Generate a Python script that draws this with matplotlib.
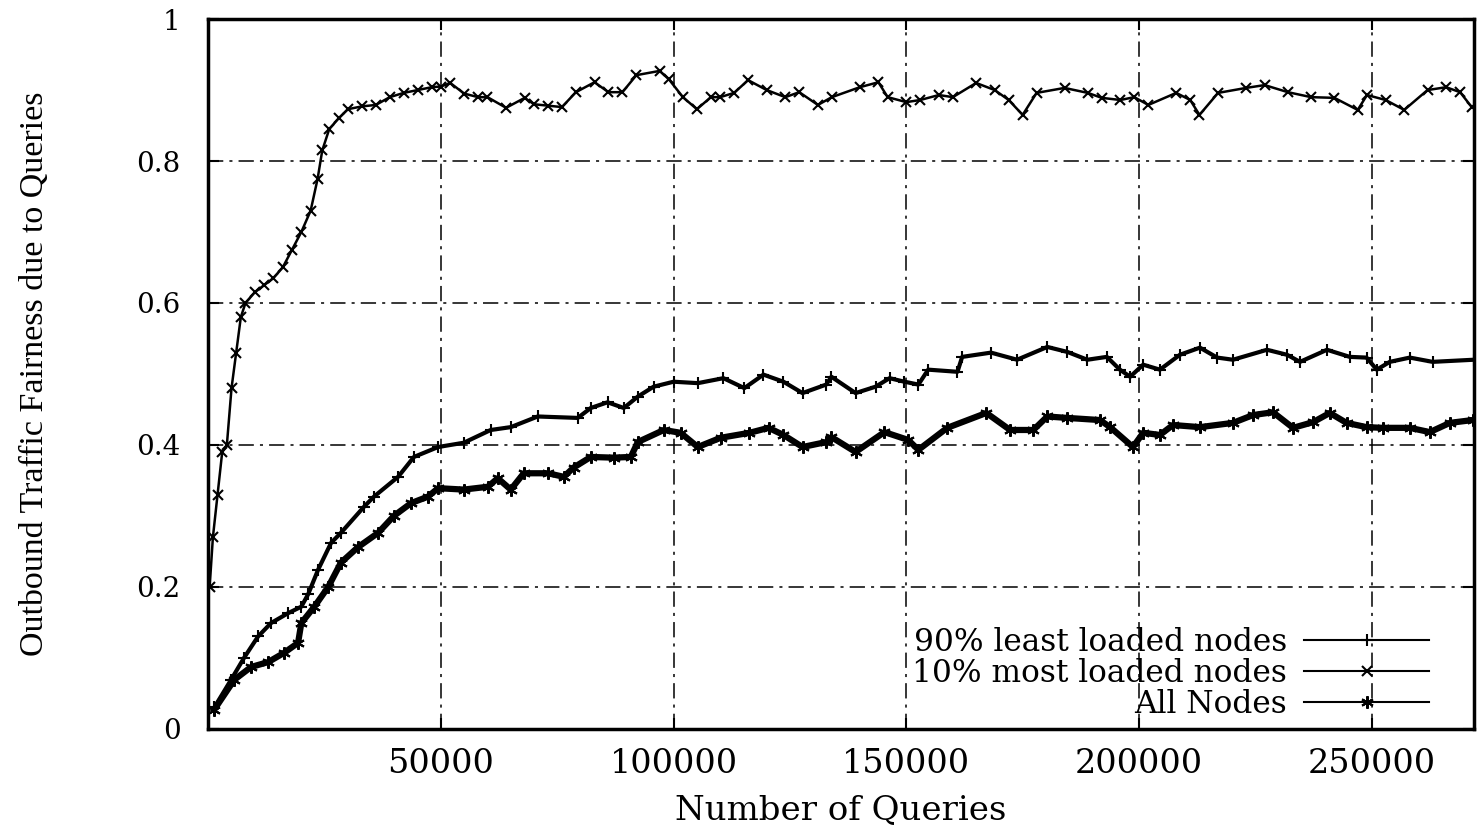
import matplotlib
matplotlib.use("Agg")
import matplotlib.pyplot as plt
import numpy as np

# 10% most loaded nodes (marker x)
q_most = [300, 1000, 2000, 3000, 4000, 5000, 6000, 7000, 8000, 10000, 12000, 14000,
          16000, 18000, 20000, 22000, 23500, 24500, 26000, 28000, 30000, 33000, 36000,
          39000, 42000, 45000, 48000, 50000, 52000, 55000, 58000, 60000, 64000, 68000,
          70000, 73000, 76000, 79000, 83000, 86000, 89000, 92000, 97000, 99000, 102000,
          105000, 108000, 110000, 113000, 116000, 120000, 124000, 127000, 131000, 134000,
          140000, 144000, 146000, 150000, 153000, 157000, 160000, 165000, 169000, 172000,
          175000, 178000, 184000, 189000, 192000, 196000, 199000, 202000, 208000, 211000,
          213000, 217000, 223000, 227000, 232000, 237000, 242000, 247000, 249000, 253000,
          257000, 262000, 266000, 269000, 271500]
v_most = [0.20, 0.27, 0.33, 0.39, 0.40, 0.48, 0.53, 0.58, 0.60, 0.615, 0.625, 0.635,
          0.65, 0.675, 0.70, 0.73, 0.775, 0.815, 0.845, 0.86, 0.873, 0.877, 0.879,
          0.89, 0.896, 0.90, 0.904, 0.905, 0.91, 0.895, 0.89, 0.89, 0.875, 0.889,
          0.88, 0.878, 0.876, 0.897, 0.911, 0.897, 0.897, 0.921, 0.927, 0.915, 0.89,
          0.873, 0.89, 0.89, 0.896, 0.914, 0.90, 0.89, 0.897, 0.879, 0.89,
          0.904, 0.911, 0.89, 0.883, 0.886, 0.893, 0.89, 0.91, 0.90, 0.886,
          0.865, 0.896, 0.903, 0.896, 0.889, 0.886, 0.89, 0.879, 0.896, 0.886,
          0.865, 0.896, 0.903, 0.907, 0.897, 0.89, 0.889, 0.872, 0.893, 0.886,
          0.872, 0.90, 0.904, 0.897, 0.876]

# 90% least loaded nodes (marker +)
q_least = [1300, 4900, 7700, 10700, 13500, 17200, 20000, 21500, 23600, 26400, 28500,
           33500, 35600, 40800, 44200, 49400, 54900, 60700, 65000, 70800, 79400, 82200,
           85800, 89300, 92300, 95700, 100000, 105200, 110700, 115200, 119300, 123600,
           127700, 132800, 133900, 139100, 143400, 146400, 149600, 152600, 154700,
           161000, 162000, 168200, 173800, 180300, 184600, 188900, 193100, 195900,
           198100, 200900, 204500, 208800, 213100, 216800, 220200, 227500, 231800,
           234600, 240400, 245300, 248900, 251100, 253900, 258200, 263100, 272000]
v_least = [0.03, 0.069, 0.10, 0.13, 0.149, 0.163, 0.172, 0.19, 0.224, 0.262, 0.276,
           0.313, 0.327, 0.355, 0.383, 0.397, 0.403, 0.421, 0.425, 0.44, 0.438, 0.452,
           0.46, 0.452, 0.468, 0.482, 0.489, 0.487, 0.494, 0.48, 0.499, 0.489,
           0.473, 0.485, 0.496, 0.473, 0.482, 0.494, 0.489, 0.485, 0.506,
           0.503, 0.524, 0.53, 0.52, 0.538, 0.531, 0.52, 0.524, 0.506,
           0.496, 0.513, 0.506, 0.527, 0.537, 0.523, 0.52, 0.534, 0.527,
           0.517, 0.534, 0.524, 0.523, 0.506, 0.517, 0.523, 0.517, 0.52]

# All nodes (marker *)
q_all = [1300, 5600, 9200, 12900, 16300, 19300, 20000, 22800, 25800, 28500, 32200,
         36500, 39900, 43600, 47200, 49400, 54900, 60100, 62200, 65000, 67800, 73000,
         76400, 78500, 82200, 87100, 90800, 92300, 97900, 101500, 105200, 110100,
         116300, 120400, 123600, 127700, 132800, 133900, 139100, 145300, 150400,
         152600, 158800, 167200, 172300, 177300, 180300, 184600, 191600, 193800,
         198700, 200900, 204500, 207300, 213100, 220200, 224500, 228800, 233100,
         237400, 241000, 244600, 248900, 252400, 258200, 262500, 266800, 271700]
v_all = [0.027, 0.069, 0.087, 0.094, 0.107, 0.121, 0.149, 0.172, 0.20, 0.234, 0.256,
         0.276, 0.30, 0.318, 0.327, 0.339, 0.337, 0.341, 0.353, 0.337, 0.36, 0.36,
         0.355, 0.368, 0.383, 0.382, 0.383, 0.404, 0.421, 0.417, 0.397, 0.41,
         0.417, 0.424, 0.414, 0.397, 0.404, 0.411, 0.39, 0.418, 0.407,
         0.393, 0.424, 0.445, 0.421, 0.421, 0.44, 0.438, 0.435, 0.425,
         0.397, 0.417, 0.414, 0.428, 0.425, 0.431, 0.442, 0.446, 0.424,
         0.432, 0.445, 0.431, 0.425, 0.424, 0.424, 0.418, 0.431, 0.435]

xticks = [50000, 100000, 150000, 200000, 250000]
yticks = [0, 0.2, 0.4, 0.6, 0.8, 1]
ytick_labels = ['0', '0.2', '0.4', '0.6', '0.8', '1']

plt.rcParams['font.family'] = 'DejaVu Serif'

fig = plt.figure(figsize=(14.77, 8.3), dpi=100)
ax = fig.add_axes([0.141, 0.122, 0.857, 0.855])

ax.plot(q_least, v_least, color='black', lw=3, marker='+', ms=9, mew=1.5,
        label='90% least loaded nodes')
ax.plot(q_most, v_most, color='black', lw=1.8, marker='x', ms=7, mew=1.5,
        label='10% most loaded nodes')
ax.plot(q_all, v_all, color='black', lw=4.5, marker=(6, 2, 0), ms=9, mew=1.5,
        label='All Nodes')

ax.set_xlim(0, 272000)
ax.set_ylim(0, 1)
ax.set_xticks(xticks)
ax.set_xticklabels([str(t) for t in xticks])
ax.set_yticks(yticks)
ax.set_yticklabels(ytick_labels)
ax.tick_params(direction='in', length=8, width=1.5, top=True, right=True)
ax.tick_params(axis='x', labelsize=24, pad=14)
ax.tick_params(axis='y', labelsize=20, pad=20)
ax.grid(True, color='black', lw=1.1, linestyle=(0, (10, 4, 2, 4)))

for s in ax.spines.values():
    s.set_linewidth(2.5)

ax.set_xlabel('Number of Queries', fontsize=24.5, labelpad=10)
ax.set_ylabel('Outbound Traffic Fairness due to Queries', fontsize=24.5,
              family='Liberation Serif', labelpad=62)

leg = ax.legend(loc='lower right', bbox_to_anchor=(0.982, -0.018), frameon=False,
                markerfirst=False, numpoints=1, handlelength=4.0, handletextpad=0.55,
                fontsize=22.5, labelspacing=0.0, borderaxespad=0.3)
for h in leg.get_lines():
    h.set_linewidth(1.5)

fig.savefig('out.png', dpi=100)
